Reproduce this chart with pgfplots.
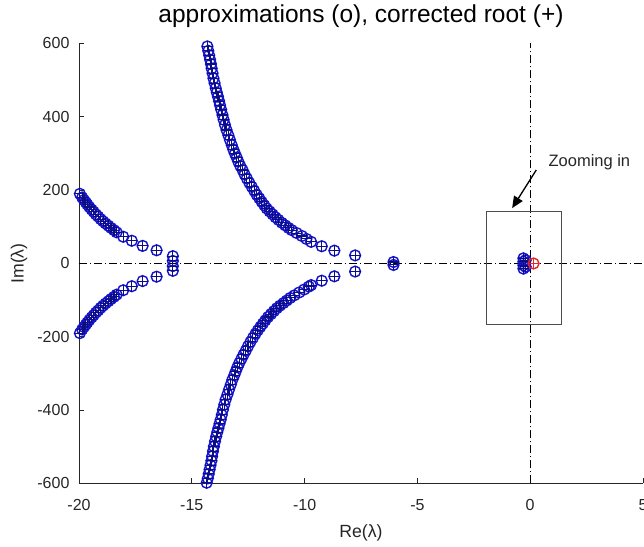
\documentclass[border=0pt]{standalone}
\usepackage{fontspec}
\setmainfont{Liberation Sans}
\usepackage{pgfplots}
\pgfplotsset{compat=1.18}
\usepackage{pgfplotstable}
\usetikzlibrary{arrows.meta}
\definecolor{mblue}{rgb}{0.08,0.08,0.8}
\definecolor{mplus}{rgb}{0.05,0.05,0.5}
\definecolor{maxis}{rgb}{0.15,0.15,0.15}
\definecolor{mred}{rgb}{0.9,0.15,0.15}

\pgfplotstableread{
x y
-19.96 190
-19.86 180
-19.78 173
-19.70 167
-19.63 161
-19.54 154
-19.44 147
-19.35 141
-19.25 134
-19.15 128
-19.04 121
-18.93 115
-18.82 109
-18.70 103
-18.58 97
-18.45 91
-18.33 85
-18.04 73
-17.66 62
-17.18 48
-16.56 36
-19.96 -190
-19.86 -180
-19.78 -173
-19.70 -167
-19.63 -161
-19.54 -154
-19.44 -147
-19.35 -141
-19.25 -134
-19.15 -128
-19.04 -121
-18.93 -115
-18.82 -109
-18.70 -103
-18.58 -97
-18.45 -91
-18.33 -85
-18.04 -73
-17.66 -62
-17.18 -48
-16.56 -36
-15.84 20
-15.84 7
-15.84 -7
-15.84 -20
-14.31 592
-14.27 580
-14.23 568
-14.19 556
-14.15 544
-14.12 532
-14.08 519
-14.04 505
-13.99 492
-13.94 478
-13.89 466
-13.84 455
-13.79 443
-13.75 432
-13.70 420
-13.64 405
-13.59 392
-13.53 378
-13.46 364
-13.38 350
-13.31 337
-13.23 323
-13.16 311
-13.09 300
-13.01 289
-12.94 278
-12.85 266
-12.75 255
-12.66 243
-12.56 232
-12.45 220
-12.34 209
-12.23 198
-12.12 187
-12.01 178
-11.90 168
-11.79 159
-11.68 150
-11.55 142
-11.42 134
-11.29 126
-11.16 119
-11.01 111
-10.86 104
-10.71 97
-10.57 91
-10.35 83
-10.12 75
-9.92 67
-9.71 59
-9.24 47
-8.68 35
-7.76 22
-14.34 -598
-14.29 -586
-14.25 -574
-14.21 -562
-14.17 -550
-14.13 -538
-14.10 -526
-14.06 -512
-14.02 -499
-13.97 -485
-13.92 -472
-13.87 -460
-13.82 -449
-13.77 -437
-13.72 -426
-13.67 -413
-13.62 -399
-13.56 -385
-13.50 -371
-13.42 -357
-13.35 -344
-13.27 -330
-13.20 -317
-13.12 -305
-13.05 -294
-12.98 -283
-12.90 -272
-12.80 -260
-12.71 -249
-12.61 -238
-12.51 -226
-12.40 -214
-12.29 -203
-12.18 -192
-12.07 -182
-11.96 -173
-11.85 -164
-11.74 -155
-11.62 -146
-11.49 -138
-11.36 -130
-11.23 -122
-11.09 -115
-10.94 -108
-10.79 -101
-10.64 -94
-10.46 -87
-10.24 -79
-10.02 -71
-9.81 -63
-9.71 -59
-9.24 -47
-8.68 -35
-7.76 -22
-6.06 4
-6.06 -4
-0.30 14
-0.30 5
-0.30 -5
-0.30 -14
-0.20 9
-0.20 -9
}\roots

\begin{document}
\begin{tikzpicture}
\begin{axis}[
  scale only axis, width=338.4pt, height=264pt,
  xmin=-20, xmax=5, ymin=-600, ymax=600,
  axis lines=left,
  axis line style={-, maxis, line width=0.5pt},
  xtick={-20,-15,...,5}, ytick={-600,-400,...,600},
  tick align=inside, major tick length=3pt,
  tick style={maxis, line width=0.5pt},
  /pgf/number format/assume math mode=true,
  ticklabel style={font=\fontsize{9.6}{11}\selectfont, text=maxis},
  xticklabel style={yshift=-6pt},
  yticklabel style={xshift=-2.2pt},
  title={approximations (o), corrected root (+)},
  title style={at={(axis description cs:0.5,1.0466)}, anchor=base, yshift=-6pt, inner sep=0pt, font=\fontsize{14.7}{17}\selectfont},
  xlabel={Re(λ)}, ylabel={Im(λ)},
  every axis x label/.style={at={(axis description cs:0.5,-0.1115)}, anchor=center, font=\fontsize{10.6}{12}\selectfont, text=maxis},
  every axis y label/.style={at={(axis description cs:-0.1064,0.5)}, rotate=90, anchor=center, font=\fontsize{10.6}{12}\selectfont, text=maxis},
]
\addplot[black, line width=0.6pt, dash pattern=on 4.8pt off 1.8pt on 0.6pt off 1.8pt] coordinates {(-20,0) (5,0)};
\addplot[black, line width=0.6pt, dash pattern=on 4.8pt off 1.8pt on 0.6pt off 1.8pt] coordinates {(0,-600) (0,600)};
\addplot[only marks, mark=o, mark size=3.25pt, mark options={draw=mblue, line width=0.85pt}] table[x=x,y=y] {\roots};
\addplot[only marks, mark=+, mark size=3.25pt, mark options={draw=mplus, line width=0.65pt}] table[x=x,y=y] {\roots};
\addplot[only marks, mark=o, mark size=3.25pt, mark options={draw=mred, line width=0.85pt}] coordinates {(0.15,0)};
\addplot[only marks, mark=+, mark size=3.25pt, mark options={draw=mred, line width=0.65pt}] coordinates {(0.15,0)};
\addplot[black!70, line width=0.7pt] coordinates {(-1.95,-166) (1.37,-166) (1.37,141) (-1.95,141) (-1.95,-166)};
\draw[black, line width=0.8pt, -{Triangle[length=7pt,width=6pt]}] (axis cs:0.27,255) -- (axis cs:-0.80,151);
\node[anchor=base west, inner sep=0pt, font=\fontsize{9.9}{11}\selectfont, text=maxis] at (axis cs:0.80,264) {Zooming in};
\end{axis}
\pgfresetboundingbox
\path (-47.4pt,-37.8pt) rectangle (339pt,290.1pt);
\end{tikzpicture}
\end{document}
